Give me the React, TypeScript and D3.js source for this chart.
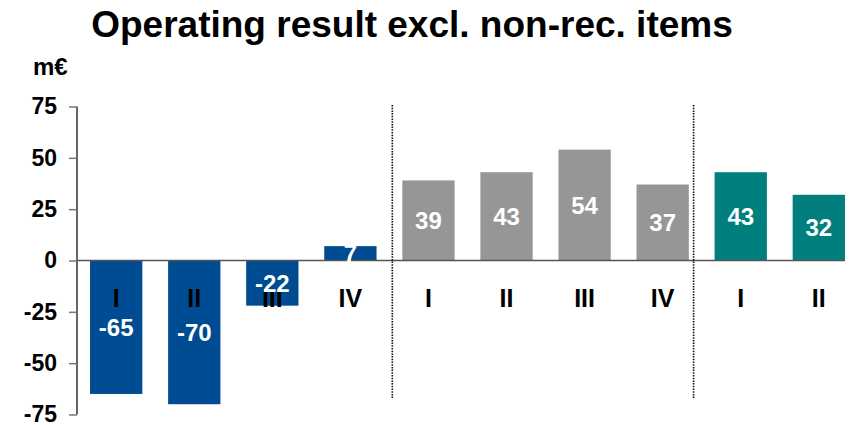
import { useEffect, useRef } from "react";
import * as d3 from "d3";

// quarters, grouped in three periods
const quarters = ["I", "II", "III", "IV", "I", "II", "III", "IV", "I", "II"];
const values = [-65, -70, -22, 7, 39, 43, 54, 37, 43, 32];
const periods = [0, 0, 0, 0, 1, 1, 1, 1, 2, 2];
const periodColors = ["#004c93", "#969696", "#007f7e"];
const yTicks = [75, 50, 25, 0, -25, -50, -75];

export default function App() {
  const svgRef = useRef<SVGSVGElement | null>(null);

  useEffect(() => {
    if (!svgRef.current) return;
    const width = 857;
    const height = 425;
    const svg = d3.select(svgRef.current);
    svg.selectAll("*").remove();

    const font = "'Liberation Sans', Arial, sans-serif";
    const ids = quarters.map((_, i) => String(i));

    const x = d3
      .scaleBand()
      .domain(ids)
      .range([77, 858])
      .paddingInner(0.33)
      .paddingOuter(0.167);

    const y = d3.scaleLinear().domain([-75, 75]).range([414.5, 106.5]);

    // title
    svg
      .append("text")
      .attr("x", 412)
      .attr("y", 37)
      .attr("text-anchor", "middle")
      .attr("font-family", font)
      .attr("font-weight", "bold")
      .attr("font-size", 37)
      .attr("fill", "#000")
      .text("Operating result excl. non-rec. items");

    svg
      .append("text")
      .attr("x", 33)
      .attr("y", 75)
      .attr("font-family", font)
      .attr("font-weight", "bold")
      .attr("font-size", 24)
      .attr("fill", "#000")
      .text("m€");

    // y axis
    const yAxis = d3
      .axisLeft(y)
      .tickValues(yTicks)
      .tickSize(8)
      .tickPadding(12)
      .tickFormat((d) => String(d));

    const gy = svg.append("g").attr("transform", "translate(77,0)").call(yAxis);
    gy.select(".domain").attr("stroke", "#000").attr("stroke-width", 1.2).attr("d", `M0,${y(75)}V${y(-75)}`);
    gy.selectAll(".tick line").attr("stroke", "#777").attr("stroke-width", 1.5);
    gy.selectAll(".tick text")
      .attr("font-family", font)
      .attr("font-weight", "bold")
      .attr("font-size", 23)
      .attr("fill", "#000");

    // bars
    svg
      .append("g")
      .selectAll("rect")
      .data(values)
      .join("rect")
      .attr("x", (_, i) => x(ids[i]) as number)
      .attr("width", x.bandwidth())
      .attr("y", (d) => y(Math.max(0, d)))
      .attr("height", (d) => Math.abs(y(d) - y(0)))
      .attr("fill", (_, i) => periodColors[periods[i]]);

    // zero line
    svg
      .append("line")
      .attr("x1", 77)
      .attr("x2", 845)
      .attr("y1", y(0))
      .attr("y2", y(0))
      .attr("stroke", "#555")
      .attr("stroke-width", 1.3);

    // period separators
    const sepX = [(x(ids[4]) as number) - 10, (x(ids[8]) as number) - 21];
    svg
      .append("g")
      .selectAll("line")
      .data(sepX)
      .join("line")
      .attr("x1", (d) => d)
      .attr("x2", (d) => d)
      .attr("y1", 105)
      .attr("y2", 398)
      .attr("stroke", "#111")
      .attr("stroke-width", 1.6)
      .attr("stroke-dasharray", "1.5,1.2");

    // quarter labels
    svg
      .append("g")
      .selectAll("text")
      .data(quarters)
      .join("text")
      .attr("x", (_, i) => (x(ids[i]) as number) + x.bandwidth() / 2)
      .attr("y", 307)
      .attr("text-anchor", "middle")
      .attr("font-family", font)
      .attr("font-weight", "bold")
      .attr("font-size", 25)
      .attr("fill", "#000")
      .text((d) => d);

    // value labels
    svg
      .append("g")
      .selectAll("text")
      .data(values)
      .join("text")
      .attr("x", (_, i) => (x(ids[i]) as number) + x.bandwidth() / 2)
      .attr("y", (d) => y(d / 2) + 8.5)
      .attr("text-anchor", "middle")
      .attr("font-family", font)
      .attr("font-weight", "bold")
      .attr("font-size", 24)
      .attr("fill", "#fff")
      .text((d) => String(d));

    svg.attr("width", width).attr("height", height);
  }, []);

  return (
    <div style={{ position: "absolute", left: 0, top: 0 }}>
      <svg ref={svgRef} width={857} height={425} style={{ display: "block", background: "#fff" }}></svg>
    </div>
  );
}
